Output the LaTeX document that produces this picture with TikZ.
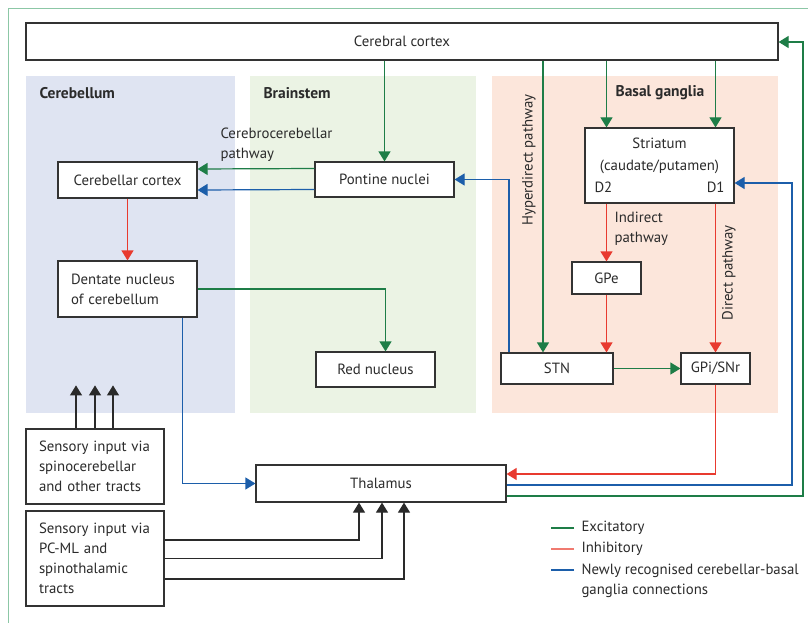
\documentclass[tikz,border=0pt]{standalone}
\usepackage{fontspec}
\setmainfont{PT Sans}
\usetikzlibrary{arrows.meta}
\definecolor{boxgray}{HTML}{333333}
\definecolor{textgray}{HTML}{2B2B2B}
\definecolor{excgreen}{HTML}{1E7D47}
\definecolor{inhred}{HTML}{E83A2F}
\definecolor{legred}{HTML}{F07A70}
\definecolor{newblue}{HTML}{1C5EAA}
\definecolor{sensblack}{HTML}{2A2A2A}
\definecolor{framegreen}{HTML}{8CC7A6}
\definecolor{cbfill}{HTML}{DFE4F2}
\definecolor{bsfill}{HTML}{EBF3E4}
\definecolor{bgfill}{HTML}{FCE6DB}

\begin{document}
\begin{tikzpicture}[x=1pt,y=-1pt,
    every node/.style={font=\fontsize{14.8}{20}\selectfont, text=textgray},
    box/.style={draw=boxgray, line width=1.2pt, fill=white},
    title/.style={font=\fontsize{15.5}{20}\selectfont\bfseries},
    exc/.style={draw=excgreen, line width=1.2pt, -{Triangle[length=10pt,width=12pt]}},
    inh/.style={draw=inhred, line width=1.2pt, -{Triangle[length=10pt,width=12pt]}},
    newc/.style={draw=newblue, line width=1.2pt, -{Triangle[length=10pt,width=12pt]}},
    sens/.style={draw=sensblack, line width=1.2pt, -{Triangle[length=10pt,width=12pt]}}]
    \useasboundingbox (0,0) rectangle (808,623);

    \draw[framegreen, line width=0.8pt] (8,623) -- (8,8) -- (808,8);

    \fill[cbfill] (26,76) rectangle (235,413);
    \fill[bsfill] (250,76) rectangle (476,413);
    \fill[bgfill] (492,76) rectangle (778,413);

    \node[title, anchor=west] (tcb) at (36,93) {Cerebellum};
    \node[title, anchor=west] (tbs) at (260,93) {Brainstem};
    \node[title] (tbg) at (660,93) {Basal ganglia};

    \node[box, minimum width=752, minimum height=37] (cortex) at (402,41.5) {Cerebral cortex};
    \node[box, minimum width=139, minimum height=36] (cbcortex) at (127.5,180) {Cerebellar cortex};
    \node[box, minimum width=139, minimum height=35] (pontine) at (384.5,179.5) {Pontine nuclei};
    \node[box, minimum width=149, minimum height=75, align=center, inner sep=1pt] (striatum) at (659.5,165.5)
        {Striatum\\[2pt](caudate/putamen)\\[2pt]\makebox[130pt]{D2\hfill D1}};
    \node[box, minimum height=56, text width=113pt, inner xsep=13pt, align=left] (dentate) at (127.5,289)
        {Dentate nucleus\\of cerebellum};
    \node[box, minimum width=119, minimum height=35] (rednuc) at (375.5,369.5) {Red nucleus};
    \node[box, minimum width=69, minimum height=32] (gpe) at (606.5,278) {GPe};
    \node[box, minimum width=112, minimum height=31] (stn) at (557,368.5) {STN};
    \node[box, minimum width=69, minimum height=31, inner xsep=2pt] (gpi) at (715.5,368.5) {GPi/SNr};
    \node[box, minimum width=250, minimum height=37] (thalamus) at (381,483.5) {Thalamus};
    \node[box, minimum height=75, text width=112pt, inner xsep=13pt, align=left] (sens1) at (95,466.5)
        {Sensory input via\\spinocerebellar\\and other tracts};
    \node[box, minimum height=95, text width=112pt, inner xsep=13pt, align=left] (sens2) at (95,558.5)
        {Sensory input via\\PC-ML and\\spinothalamic\\tracts};

    \node[anchor=west, align=left] (lcc) at (217,145) {Cerebrocerebellar\\pathway};
    \node[anchor=west, align=left] (lind) at (611,228.5) {Indirect\\pathway};
    \node[rotate=90] (lhyp) at (529,160) {Hyperdirect pathway};
    \node[rotate=90] (ldir) at (729,273) {Direct pathway};

    \coordinate (xhyp) at (543,0);
    \coordinate (xpn) at (509,0);
    \coordinate (bx) at (792,183);
    \coordinate (gx) at (803,42);

    \draw[exc] (pontine |- cortex.south) -- (pontine.north);
    \draw[exc] (gpe |- cortex.south) -- (gpe |- striatum.north);
    \draw[exc] (gpi |- cortex.south) -- (gpi |- striatum.north);
    \draw[exc] (xhyp |- cortex.south) -- (xhyp |- stn.north);
    \draw[exc] ([yshift=11pt]pontine.west) -- ([yshift=11pt]cbcortex.east);
    \draw[newc] ([yshift=-10pt]pontine.west) -- ([yshift=-10pt]cbcortex.east);
    \draw[newc] (xpn |- stn.north) |- (pontine.east);
    \draw[inh] (cbcortex.south) -- (dentate.north);
    \draw[exc] (dentate.east) -| ([xshift=10pt]rednuc.north);
    \draw[newc] ([xshift=-15pt]dentate.south east) |- (thalamus.west);
    \draw[inh] (gpe |- striatum.south) -- (gpe.north);
    \draw[inh] (gpi |- striatum.south) -- (gpi.north);
    \draw[inh] (gpe.south) -- (gpe.south |- stn.north);
    \draw[exc] (stn.east) -- (gpi.west);
    \draw[inh] (gpi.south) |- ([yshift=9.5pt]thalamus.east);
    \draw[newc] ([yshift=-1.5pt]thalamus.east) -| (bx) -- (bx -| striatum.east);
    \draw[exc] ([yshift=-12.5pt]thalamus.east) -| (gx) -- (gx -| cortex.east);

    \foreach \dx in {-19,0,18}
        \draw[sens] ([xshift=\dx pt]sens1.north) -- ++(0,-43);
    \draw[sens] ([yshift=18.5pt]sens2.east) -| ([xshift=-22pt]thalamus.south);
    \draw[sens] (sens2.east) -| ([xshift=1pt]thalamus.south);
    \draw[sens] ([yshift=-20.5pt]sens2.east) -| ([xshift=23pt]thalamus.south);

    \node[anchor=west] (lexc) at (578,528) {Excitatory};
    \node[anchor=west] (linh) at (578,549) {Inhibitory};
    \node[anchor=west, align=left] (lnew) at (578,580.5) {Newly recognised cerebellar-basal\\ganglia connections};
    \draw[excgreen, line width=1.2pt] ([xshift=-4pt]lexc.west) -- ++(-23,0);
    \draw[legred, line width=1.2pt] ([xshift=-4pt]linh.west) -- ++(-23,0);
    \draw[newblue, line width=1.2pt] ([xshift=-4pt, yshift=10.5pt]lnew.west) -- ++(-23,0);
\end{tikzpicture}
\end{document}
